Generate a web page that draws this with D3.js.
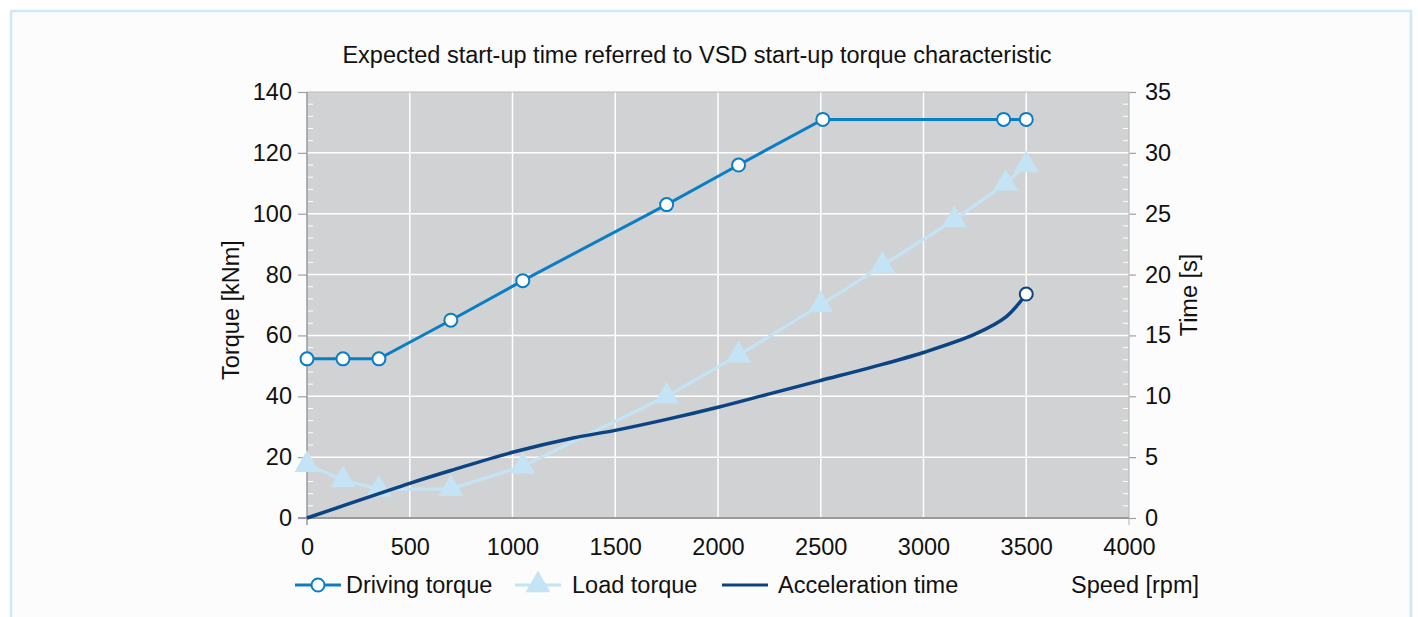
<!DOCTYPE html>
<html>
<head>
<meta charset="utf-8">
<script src="https://cdn.jsdelivr.net/npm/d3@7"></script>
<style>
  body { margin: 0; background: #ffffff; }
  svg text { font-family: "Liberation Sans", Arial, sans-serif; fill: #111; }
</style>
</head>
<body>
<div id="chart"></div>
<script>
////////////////////////////////////////////////////////////////////////////////
// Data
var drivingRpm    = [0, 175, 350, 700, 1050, 1750, 2100, 2510, 3390, 3500];
var drivingTorque = [52.3, 52.3, 52.3, 65, 78, 103, 116, 131, 131, 131];

var loadRpm    = [0, 175, 350, 700, 1050, 1750, 2100, 2500, 2800, 3150, 3400, 3500];
var loadTorque = [17.5, 12.5, 9.4, 9.6, 17, 40, 53.5, 70, 83, 98, 110, 116];

var accelRpm  = [0, 350, 500, 700, 1000, 1300, 1500, 1750, 2000, 2250, 2500, 2750, 3000, 3250, 3400, 3500];
var accelTime = [0, 2.0, 2.85, 3.9, 5.4, 6.6, 7.2, 8.1, 9.1, 10.2, 11.3, 12.4, 13.6, 15.1, 16.5, 18.4];

var xTicks      = [0, 500, 1000, 1500, 2000, 2500, 3000, 3500, 4000];
var torqueTicks = [0, 20, 40, 60, 80, 100, 120, 140];
var timeTicks   = [0, 5, 10, 15, 20, 25, 30, 35];

var title = 'Expected start-up time referred to VSD start-up torque characteristic';

////////////////////////////////////////////////////////////////////////////////
var W = 1418, H = 617;
var plot = {left: 307, right: 1129, top: 92, bottom: 518};
var fs = '23.5px';

var colDrive = '#0a7ec4', colLoad = '#c4e4f5', colAccel = '#0b4482';

var svg = d3.select('#chart').append('svg')
  .attr('width', W).attr('height', H);

// outer frame
svg.append('rect')
  .attr('x', 11).attr('y', 11).attr('width', 1400).attr('height', 640)
  .attr('fill', '#fcfcfc').attr('stroke', '#cde8f7').attr('stroke-width', 2.5);

var x = d3.scaleLinear().domain([0, 4000]).range([plot.left, plot.right]);
var yL = d3.scaleLinear().domain([0, 140]).range([plot.bottom, plot.top]);
var yR = d3.scaleLinear().domain([0, 35]).range([plot.bottom, plot.top]);

// plot background
svg.append('rect')
  .attr('x', plot.left).attr('y', plot.top)
  .attr('width', plot.right - plot.left).attr('height', plot.bottom - plot.top)
  .attr('fill', '#d1d2d4');

// grid
svg.append('g').selectAll('line').data(xTicks.slice(1, -1)).enter().append('line')
  .attr('x1', d => x(d)).attr('x2', d => x(d))
  .attr('y1', plot.top).attr('y2', plot.bottom)
  .attr('stroke', '#fff').attr('stroke-width', 1.5);
svg.append('g').selectAll('line').data(torqueTicks.slice(1, -1)).enter().append('line')
  .attr('x1', plot.left).attr('x2', plot.right)
  .attr('y1', d => yL(d)).attr('y2', d => yL(d))
  .attr('stroke', '#fff').attr('stroke-width', 1.5);

// minor ticks inside the plot (white)
var minorL = d3.range(0, 141, 4).filter(d => d % 20 != 0);
svg.append('g').selectAll('line').data(minorL).enter().append('line')
  .attr('x1', plot.left + 1).attr('x2', plot.left + 6)
  .attr('y1', d => yL(d)).attr('y2', d => yL(d))
  .attr('stroke', '#fff').attr('stroke-width', 1);
var minorR = d3.range(0, 36, 1).filter(d => d % 5 != 0);
svg.append('g').selectAll('line').data(minorR).enter().append('line')
  .attr('x1', plot.right - 6).attr('x2', plot.right - 1)
  .attr('y1', d => yR(d)).attr('y2', d => yR(d))
  .attr('stroke', '#fff').attr('stroke-width', 1);

// axes
var fmt = d3.format('d');
var axisL = svg.append('g').attr('transform', 'translate(' + plot.left + ',0)')
  .call(d3.axisLeft(yL).tickValues(torqueTicks).tickFormat(fmt).tickSize(9).tickPadding(6));
var axisR = svg.append('g').attr('transform', 'translate(' + plot.right + ',0)')
  .call(d3.axisRight(yR).tickValues(timeTicks).tickFormat(fmt).tickSize(7).tickPadding(9));
var axisB = svg.append('g').attr('transform', 'translate(0,' + plot.bottom + ')')
  .call(d3.axisBottom(x).tickValues(xTicks).tickFormat(fmt).tickSize(0).tickPadding(20));

[axisL, axisR, axisB].forEach(function(a){
  a.select('.domain').remove();
  a.selectAll('line').attr('stroke', '#a0a0a0').attr('stroke-width', 1.2);
  a.selectAll('text').style('font-size', fs).attr('fill', '#111');
});

// frame lines
svg.append('line').attr('x1', plot.left).attr('x2', plot.right)
  .attr('y1', plot.top).attr('y2', plot.top).attr('stroke', '#bdbdbd').attr('stroke-width', 1);
svg.append('line').attr('x1', plot.right).attr('x2', plot.right)
  .attr('y1', plot.top).attr('y2', plot.bottom + 7).attr('stroke', '#bdbdbd').attr('stroke-width', 1.2);
svg.append('line').attr('x1', plot.left).attr('x2', plot.left)
  .attr('y1', plot.top).attr('y2', plot.bottom + 7).attr('stroke', '#9a9a9a').attr('stroke-width', 1.5);
svg.append('line').attr('x1', plot.left - 9).attr('x2', plot.right)
  .attr('y1', plot.bottom).attr('y2', plot.bottom).attr('stroke', '#9a9a9a').attr('stroke-width', 2);

// series
var drive = drivingRpm.map((d, i) => ({x: d, y: drivingTorque[i]}));
var load = loadRpm.map((d, i) => ({x: d, y: loadTorque[i]}));
var accel = accelRpm.map((d, i) => ({x: d, y: accelTime[i]}));

svg.append('path').datum(load)
  .attr('fill', 'none').attr('stroke', colLoad).attr('stroke-width', 3.2)
  .attr('d', d3.line().x(d => x(d.x)).y(d => yL(d.y)));
var tri = d3.symbol().type(d3.symbolTriangle).size(270);
svg.append('g').selectAll('path').data(load).enter().append('path')
  .attr('transform', d => 'translate(' + x(d.x) + ',' + yL(d.y) + ')')
  .attr('d', tri).attr('fill', colLoad);

svg.append('path').datum(accel)
  .attr('fill', 'none').attr('stroke', colAccel).attr('stroke-width', 3.5)
  .attr('d', d3.line().curve(d3.curveCatmullRom.alpha(0.5)).x(d => x(d.x)).y(d => yR(d.y)));
var last = accel[accel.length - 1];
svg.append('circle').attr('cx', x(last.x)).attr('cy', yR(last.y)).attr('r', 6.5)
  .attr('fill', '#fff').attr('stroke', colAccel).attr('stroke-width', 2);

svg.append('path').datum(drive)
  .attr('fill', 'none').attr('stroke', colDrive).attr('stroke-width', 3)
  .attr('d', d3.line().x(d => x(d.x)).y(d => yL(d.y)));
svg.append('g').selectAll('circle').data(drive).enter().append('circle')
  .attr('cx', d => x(d.x)).attr('cy', d => yL(d.y)).attr('r', 6.5)
  .attr('fill', '#fff').attr('stroke', colDrive).attr('stroke-width', 2);

// title and axis labels
svg.append('text').attr('x', 697).attr('y', 63).attr('text-anchor', 'middle')
  .style('font-size', fs).text(title);
svg.append('text').attr('transform', 'translate(239,' + 310 + ') rotate(-90)')
  .attr('text-anchor', 'middle').style('font-size', fs).text('Torque [kNm]');
svg.append('text').attr('transform', 'translate(1197,' + 295 + ') rotate(-90)')
  .attr('text-anchor', 'middle').style('font-size', fs).text('Time [s]');

// legend
var ly = 585;
var leg = svg.append('g');
leg.append('line').attr('x1', 295).attr('x2', 341).attr('y1', ly).attr('y2', ly)
  .attr('stroke', colDrive).attr('stroke-width', 3);
leg.append('circle').attr('cx', 318).attr('cy', ly).attr('r', 6.5)
  .attr('fill', '#fff').attr('stroke', colDrive).attr('stroke-width', 2);
leg.append('text').attr('x', 346).attr('y', ly + 8).style('font-size', fs).text('Driving torque');

leg.append('line').attr('x1', 515).attr('x2', 561).attr('y1', ly).attr('y2', ly)
  .attr('stroke', colLoad).attr('stroke-width', 3.2);
leg.append('path').attr('transform', 'translate(538,' + ly + ')').attr('d', tri).attr('fill', colLoad);
leg.append('text').attr('x', 572).attr('y', ly + 8).style('font-size', fs).text('Load torque');

leg.append('line').attr('x1', 722).attr('x2', 768).attr('y1', ly).attr('y2', ly)
  .attr('stroke', colAccel).attr('stroke-width', 3);
leg.append('text').attr('x', 778).attr('y', ly + 8).style('font-size', fs).text('Acceleration time');

leg.append('text').attr('x', 1071).attr('y', ly + 8).style('font-size', fs).text('Speed [rpm]');
</script>
</body>
</html>
